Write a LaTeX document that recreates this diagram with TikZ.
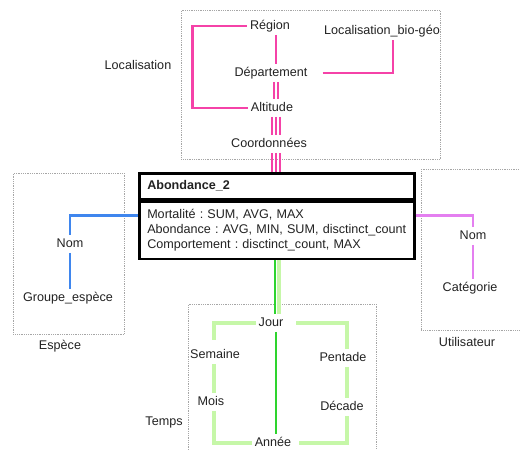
\documentclass[tikz,border=0pt]{standalone}
\usepackage{fontspec}
\setmainfont{Liberation Sans}
\usetikzlibrary{positioning}
\definecolor{rosec}{HTML}{F542A8}
\definecolor{violetc}{HTML}{E47FF0}
\definecolor{bleuc}{HTML}{3F86EE}
\definecolor{vertclair}{HTML}{C6F7A8}
\definecolor{vertfonce}{HTML}{2ED42E}
\definecolor{texte}{HTML}{222222}
\frenchspacing
\begin{document}
\begin{tikzpicture}[
       x = 1pt, y = -1pt,
every node/.style = {font=\fontsize{12.6}{15}\selectfont, text=texte},
    attr/.style = {inner sep=3pt, text height=9pt, text depth=2.5pt},
  groupe/.style = {draw=gray!70, densely dotted, line width=0.8pt, anchor=north west},
     hdr/.style = {draw=black, line width=2.5pt, anchor=north west, text width=259pt,
                   inner xsep=8pt, minimum height=26pt, align=left, text height=9pt, text depth=2.5pt,
                   font=\fontsize{12.6}{15}\selectfont\bfseries},
    corps/.style = {draw=black, line width=2.5pt, anchor=north west, text width=259pt,
                   inner xsep=8pt, minimum height=57pt, align=left,
                   execute at begin node={\hyphenpenalty=10000\hbadness=10000\hfuzz=20pt}},
    rose/.style = {draw=rosec, line width=2.6pt},
   rosef/.style = {draw=rosec, line width=2pt},
    bleu/.style = {draw=bleuc, line width=2.8pt},
    viol/.style = {draw=violetc, line width=2.4pt},
   vertc/.style = {draw=vertclair, line width=3.3pt},
   vertf/.style = {draw=vertfonce, line width=2.2pt}
                    ]
\useasboundingbox (0,0) rectangle (520,450);

% groupes
\node[groupe, minimum width=259pt, minimum height=149pt] (gloc) at (181,10) {};
\node[groupe, minimum width=111pt, minimum height=161pt] (gesp) at (13,173) {};
\node[groupe, minimum width=114pt, minimum height=161pt] (guti) at (421,169) {};
\node[groupe, minimum width=188pt, minimum height=156pt] (gtps) at (188,304) {};

\node (lloc) at (138,65) {Localisation};
\node (lesp) at (60,346) {Espèce};
\node (luti) at (467,342) {Utilisateur};
\node (ltps) at (164,422) {Temps};

\coordinate (axe) at (276,0);
\coordinate (gauche) at (214,0);
\coordinate (droite) at (347,0);

% localisation
\node[attr] (region) at (270,26) {Région};
\node[attr] (bio) at (382,31) {Localisation\_bio-géo};
\node[attr] (dept) at (271,73) {Département};
\node[attr] (alt) at (272,108) {Altitude};
\node[attr] (coord) at (269,144) {Coordonnées};

% fait
\node[hdr] (abhead) at (138,172) {Abondance\_2};
\node[corps] (abbody) at (abhead.south west) {Mortalité : SUM, AVG, MAX\\
Abondance : AVG, MIN, SUM, disctinct\_count\\
Comportement : disctinct\_count, MAX};

% espece
\node[attr] (nom) at (70,244) {Nom};
\node[attr] (gresp) at (68,298) {Groupe\_espèce};

% utilisateur
\node[attr] (unom) at (473,236) {Nom};
\node[attr] (cat) at (470,288) {Catégorie};

% temps
\node[attr] (jour) at (271,323) {Jour};
\node[attr] (semaine) at (215,355) {Semaine};
\node[attr] (mois) at (211,402) {Mois};
\node[attr] (annee) at (273,443) {Année};
\node[attr] (pentade) at (343,358) {Pentade};
\node[attr] (decade) at (342,407) {Décade};

\draw[rose] (region.west) -| ([xshift=-55pt]alt.west) -- (alt.west);
\draw[rose] (region.south -| axe) -- (dept.north -| axe);
\draw[rose, shorten <=12pt] (dept.east) -| ([xshift=11pt]bio.south);
\foreach \dx in {-2,2}
  \draw[rosef] ([xshift=\dx pt]dept.south -| axe) -- ([xshift=\dx pt]alt.north -| axe);
\foreach \dx in {-4,0,4} {
  \draw[rosef] ([xshift=\dx pt]alt.south -| axe) -- ([xshift=\dx pt]coord.north -| axe);
  \draw[rosef] ([xshift=\dx pt]coord.south -| axe) -- ([xshift=\dx pt]abhead.north -| axe);
}

\draw[bleu] ([yshift=-15pt]abbody.north west) -| (nom.north);
\draw[bleu] (nom.south) -- (nom.south |- gresp.north);

\draw[viol] ([yshift=-15pt]abbody.north east) -| (unom.north);
\draw[viol] (unom.south) -- (unom.south |- cat.north);

\draw[vertc] ([xshift=3pt]abbody.south -| axe) -- ([xshift=3pt]jour.north -| axe);
\draw[vertf] ([xshift=-1pt]abbody.south -| axe) -- ([xshift=-1pt]jour.north -| axe);
\draw[vertf] (jour.south -| axe) -- (annee.north -| axe);
\draw[vertc, shorten >=6pt] (jour.west) -| (gauche |- semaine.north);
\draw[vertc] (semaine.south -| gauche) -- (mois.north -| gauche);
\draw[vertc] (mois.south -| gauche) |- (annee.west);
\draw[vertc, shorten <=10pt] (jour.east) -| (droite |- pentade.north);
\draw[vertc] (pentade.south -| droite) -- (decade.north -| droite);
\draw[vertc, shorten >=5pt] (decade.south -| droite) |- (annee.east);

\end{tikzpicture}
\end{document}
